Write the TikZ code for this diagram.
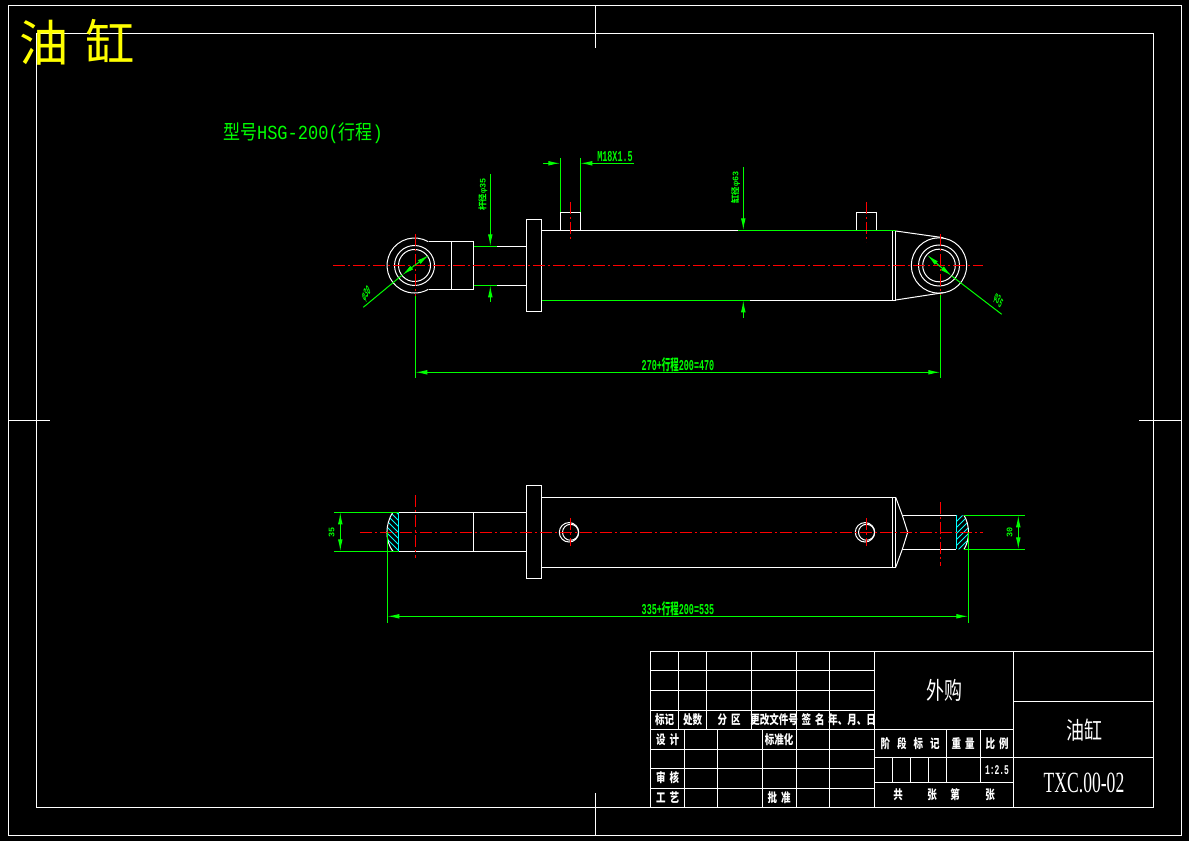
\documentclass[tikz,border=0pt]{standalone}
\usepackage{fontspec}
\setmainfont{Liberation Mono}
\newfontfamily\cjk{Noto Sans CJK SC}
\newfontfamily\serif{Liberation Serif}
\usetikzlibrary{arrows.meta}

\begin{document}
\begin{tikzpicture}[x=0.75pt,y=-0.75pt,line width=0.75pt]
   \tikzstyle{part}=[draw=white]
   \tikzstyle{centre}=[draw=red, dash pattern=on 9pt off 2pt on 2pt off 2pt]
   \tikzstyle{dimline}=[draw=green]
   \tikzstyle{tip}=[draw=green, -{Latex[length=9pt,width=3.5pt]}]
   \tikzstyle{bothtips}=[draw=green, {Latex[length=9pt,width=3.5pt]}-{Latex[length=9pt,width=3.5pt]}]
   \tikzstyle{hatchline}=[draw=cyan, line width=0.6pt]
   \tikzstyle{dimtext}=[text=green, inner sep=0pt, font=\bfseries\fontsize{11.3}{11.3}\selectfont, xscale=0.56, transform shape]
   \tikzstyle{cell}=[text=white, inner sep=0pt, font=\cjk\bfseries\fontsize{9.5}{9.5}\selectfont, xscale=0.75, transform shape]
   \tikzstyle{bigcell}=[text=white, inner sep=0pt, font=\cjk\fontsize{18}{18}\selectfont, xscale=0.75, transform shape]
   \definecolor{green}{HTML}{00FF00}
   \definecolor{red}{HTML}{FF0000}
   \definecolor{cyan}{HTML}{00FFFF}
   \definecolor{yellow}{HTML}{FFFF00}

\fill[black] (0,0) rectangle (1189,841);
\useasboundingbox (0,0) rectangle (1189,841);

% sheet frame
\draw[part] (8.3,6) rectangle (1181.7,835);
\draw[part] (36.3,34) rectangle (1153.3,807);
\draw[part] (595,6) -- (595,48) (595,793) -- (595,835);
\draw[part] (8.3,420.5) -- (50,420.5) (1139,420.5) -- (1181.7,420.5);

\node[text=yellow, inner sep=0pt, font=\cjk\fontsize{37}{37}\selectfont] (title) at (77,42) {油\hspace{13pt}缸};
\node[text=green, inner sep=0pt, font=\fontsize{15}{15}\selectfont, xscale=0.85, transform shape] (model) at (303,133) {{\cjk 型号}HSG-200({\cjk 行程})};

% upper view
\draw[part] (414.5,265.5) circle (20) (414.5,265.5) circle (16);
\draw[part] (428.3,241.7) arc (-60:-300:27.5);
\draw[part] (429,241.3) -- (473.7,241.3) -- (473.7,289.3) -- (429,289.3);
\draw[part] (451.3,241.3) -- (451.3,289.3);
\draw[part] (497,246.3) -- (526,246.3) (497,285.3) -- (526,285.3);
\draw[part] (526,219.3) rectangle (541.7,311.3);
\draw[part] (541.7,230.3) -- (738,230.3) (750,300.3) -- (895.7,300.3);
\draw[part] (892,230.3) -- (892,300.3) (895.7,230.3) -- (895.7,300.3);
\draw[part] (560.3,230.3) -- (560.3,212.3) -- (580.3,212.3) -- (580.3,230.3);
\draw[part] (856.3,230.3) -- (856.3,212.3) -- (876.7,212.3) -- (876.7,230.3);
\draw[part] (895.7,231) -- (943.3,237.7) (895.7,300) -- (943.3,292.7);
\draw[part] (939,265.5) circle (27.7) (939,265.5) circle (20.5) (939,265.5) circle (16.3);

\draw[centre] (333,265.3) -- (983,265.3);
\draw[centre] (415.3,234) -- (415.3,296);
\draw[centre] (940.3,234) -- (940.3,295);
\draw[centre] (570.3,202) -- (570.3,240);
\draw[centre] (866.3,202) -- (866.3,242);

% upper view dimensions
\coordinate (strokeupL) at (415.3,372.3);
\coordinate (strokeupR) at (940.3,372.3);
\draw[dimline] (415.3,296) -- (415.3,377.7) (940.3,295) -- (940.3,377.7);
\draw[bothtips] (strokeupL) -- (strokeupR);
\node[dimtext] (strokeA) at (678,364.5) {270+{\cjk 行程}200=470};

\draw[dimline] (473.7,246.3) -- (497,246.3) (473.7,285.3) -- (497,285.3);
\draw[tip] (490.3,174) -- (490.3,246.3);
\draw[tip] (490.3,301.7) -- (490.3,285.3);
\node[dimtext, rotate=90, xscale=0.56] (rodsize) at (483,194.5) {{\cjk 杆径}φ35};

\draw[dimline] (560.3,158) -- (560.3,212.3) (580.3,158) -- (580.3,212.3);
\draw[tip] (543,163.3) -- (560.3,163.3);
\draw[tip] (634,163.3) -- (580.3,163.3);
\node[dimtext] (thread) at (615,156.5) {M18X1.5};

\draw[dimline] (738,230.3) -- (895.7,230.3) (541.7,300.3) -- (750,300.3);
\draw[tip] (743.3,167) -- (743.3,230.3);
\draw[tip] (743.3,317.7) -- (743.3,300.3);
\node[dimtext, rotate=90, xscale=0.56] (boresize) at (735.5,187.5) {{\cjk 缸径}φ63};

\coordinate (eyeLc) at (414.5,265.5);
\coordinate (eyeRc) at (939,265.5);
\draw[dimline] (363.3,307.3) -- (402.3,275);
\draw[tip] (eyeLc) -- (402.3,275);
\draw[tip] (eyeLc) -- (429,255);
\node[dimtext, rotate=40, xscale=0.56] (eyeL) at (366.5,294) {φ30};
\draw[dimline] (1001.7,314.3) -- (951.6,275.9);
\draw[tip] (eyeRc) -- (951.6,275.9);
\draw[tip] (eyeRc) -- (927.3,255);
\node[dimtext, rotate=-42, xscale=0.56] (eyeR) at (998,301) {φ35};

% lower view
\begin{scope}
  \clip (398.7,512.3) -- (392.7,512.3) .. controls (385,525) and (385,540) .. (392.7,551.3) -- (398.7,551.3) -- cycle;
  \foreach \i in {0,6,...,66}
    \draw[hatchline] (378+\i,560) -- (378+\i-50,510);
\end{scope}
\begin{scope}
  \clip (956.3,515.3) -- (964,515.3) .. controls (970,525) and (970,540) .. (964,549.3) -- (956.3,549.3) -- cycle;
  \foreach \i in {0,6,...,66}
    \draw[hatchline] (950+\i-50,560) -- (950+\i,510);
\end{scope}
\draw[part] (392.7,512.3) .. controls (385,525) and (385,540) .. (392.7,551.3);
\draw[part] (964,515.3) .. controls (970,525) and (970,540) .. (964,549.3);
\draw[hatchline] (398.7,512.3) -- (398.7,551.3) (956.3,515.3) -- (956.3,549.3);
\draw[part] (398.7,512.3) -- (526.3,512.3) (398.7,551.3) -- (526.3,551.3);
\draw[part] (473.3,512.3) -- (473.3,551.3);
\draw[part] (526.3,485.3) rectangle (541.7,578.7);
\draw[part] (541.7,497.3) rectangle (895.7,567.3);
\draw[part] (892.3,497.3) -- (892.3,567.3);
\draw[part] (895.7,497.3) -- (902.3,515.3) -- (907.7,532.3) -- (902.3,549.3) -- (895.7,567.3);
\draw[part] (902.3,515.3) -- (956.3,515.3) (902.3,549.3) -- (956.3,549.3);
\foreach \x in {569,865} {
  \draw[part] (\x,532.3) circle (9.7);
  \draw[part] (\x+1.5,532.3) circle (8);
}
\draw[centre] (360,532.3) -- (982.7,532.3);
\draw[centre] (415.3,495) -- (415.3,557.7);
\draw[centre] (940.3,502) -- (940.3,565.7);
\draw[centre] (570.3,518) -- (570.3,545.7);
\draw[centre] (866.3,518) -- (866.3,545.7);

% lower view dimensions
\coordinate (strokelowL) at (387.3,616.3);
\coordinate (strokelowR) at (968.3,616.3);
\draw[dimline] (387.3,532.3) -- (387.3,622.7) (968.3,532.3) -- (968.3,622.7);
\draw[bothtips] (strokelowL) -- (strokelowR);
\node[dimtext] (strokeB) at (678,608.5) {335+{\cjk 行程}200=535};

\draw[dimline] (334,512.3) -- (398.7,512.3) (334,551.3) -- (398.7,551.3);
\draw[tip] (340.3,532) -- (340.3,512.3);
\draw[tip] (340.3,532) -- (340.3,551.3);
\node[dimtext, rotate=90, xscale=0.56] (widthL) at (331.5,532) {35};
\draw[dimline] (964,515.3) -- (1025,515.3) (964,549.3) -- (1025,549.3);
\draw[tip] (1018.3,532) -- (1018.3,515.3);
\draw[tip] (1018.3,532) -- (1018.3,549.3);
\node[dimtext, rotate=90, xscale=0.56] (widthR) at (1009.5,532) {30};

% title block
\draw[part] (650.3,651.3) rectangle (1153.3,807);
\foreach \y in {670.3,690.3,710.3,729.3,749.3,768.3,788.3}
  \draw[part] (650.3,\y) -- (874.3,\y);
\foreach \x in {678.3,706.3,751.3}
  \draw[part] (\x,651.3) -- (\x,729.3);
\foreach \x in {684.3,717.3,762.3}
  \draw[part] (\x,729.3) -- (\x,807);
\foreach \x in {796.3,829.3,874.3}
  \draw[part] (\x,651.3) -- (\x,807);
\draw[part] (1013.3,651.3) -- (1013.3,807);
\draw[part] (1013.3,701.3) -- (1153.3,701.3);
\draw[part] (874.3,729.3) -- (1013.3,729.3);
\draw[part] (874.3,757.3) -- (1153.3,757.3);
\draw[part] (874.3,782.3) -- (1013.3,782.3);
\draw[part] (946.3,729.3) -- (946.3,782.3) (980.3,729.3) -- (980.3,782.3);
\foreach \x in {892.3,910.3,928.3}
  \draw[part] (\x,757.3) -- (\x,782.3);

\node[cell] (mark) at (664.5,720) {标记};
\node[cell] (count) at (692.5,720) {处数};
\node[cell] (zone) at (729,720) {分\hspace{4pt}区};
\node[cell] (docno) at (774,720) {更改文件号};
\node[cell] (sign) at (813,720) {签\hspace{4pt}名};
\node[cell] (date) at (852,720) {年、月、日};
\node[cell] (design) at (667.5,740) {设\hspace{4pt}计};
\node[cell] (standard) at (779,740) {标准化};
\node[cell] (review) at (667.5,778) {审\hspace{4pt}核};
\node[cell] (craft) at (667.5,798) {工\hspace{4pt}艺};
\node[cell] (approve) at (779,798) {批\hspace{4pt}准};
\node[bigcell] (bought) at (944,690) {外购};
\node[cell] (stage) at (910,744) {阶\hspace{7pt}段\hspace{7pt}标\hspace{7pt}记};
\node[cell] (weight) at (963,744) {重\hspace{4pt}量};
\node[cell] (ratio) at (997,744) {比\hspace{4pt}例};
\node[cell, font=\bfseries\fontsize{10}{10}\selectfont, xscale=0.8] (ratioval) at (997,770) {1:2.5};
\node[cell] (totalA) at (898,795) {共};
\node[cell] (totalB) at (932,795) {张};
\node[cell] (totalC) at (955,795) {第};
\node[cell] (totalD) at (990,795) {张};
\node[bigcell] (name) at (1084,730) {油缸};
\node[bigcell, font=\serif\fontsize{22}{22}\selectfont, xscale=0.8] (drawno) at (1084,783) {TXC.00-02};

\end{tikzpicture}
\end{document}
